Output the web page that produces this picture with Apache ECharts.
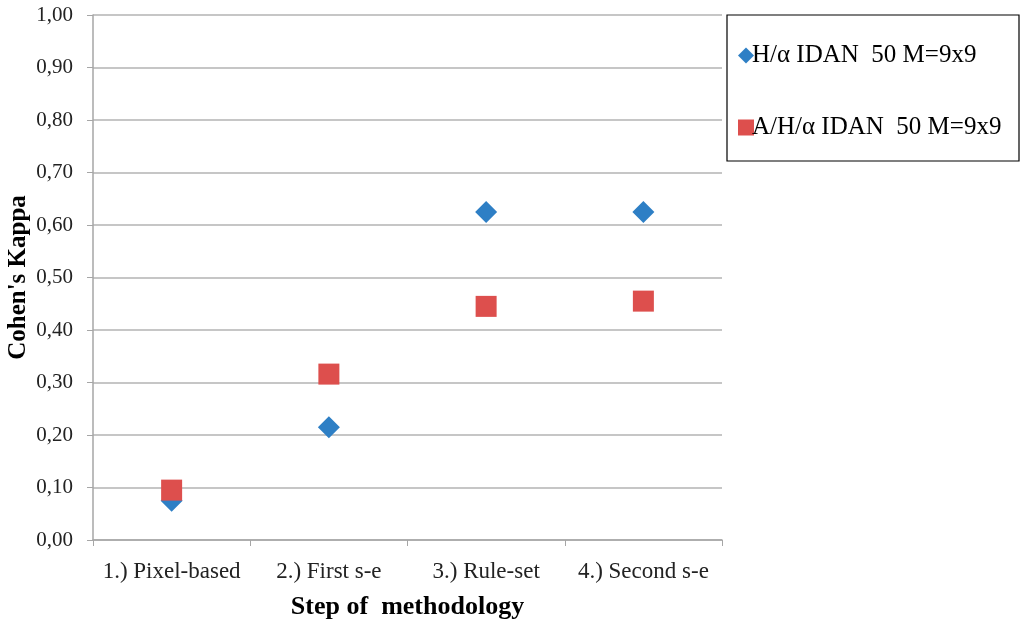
<!DOCTYPE html>
<html><head><meta charset="utf-8">
<script src="https://cdn.jsdelivr.net/npm/echarts@6/dist/echarts.min.js"></script>
<style>html,body{margin:0;padding:0;background:#fff}#c{width:1024px;height:626px}</style>
</head><body><div id="c"></div>
<script>
const categories = ['1.) Pixel-based', '2.) First s-e', '3.) Rule-set', '4.) Second s-e'];
const seriesNames = ['H/\u03b1 IDAN  50 M=9x9', 'A/H/\u03b1 IDAN  50 M=9x9'];
const hAlpha = [0.075, 0.215, 0.625, 0.625];
const aHAlpha = [0.095, 0.316, 0.445, 0.455];
const yTicks = [0, 0.1, 0.2, 0.3, 0.4, 0.5, 0.6, 0.7, 0.8, 0.9, 1.0];

const chart = echarts.init(document.getElementById('c'));
const font = 'Liberation Serif';
chart.setOption({
  backgroundColor: '#fff',
  animation: false,
  grid: { left: 93, right: 302, top: 15, bottom: 86, outerBoundsMode: 'none', containLabel: false },
  xAxis: {
    type: 'category', data: categories, boundaryGap: true,
    name: 'Step of  methodology', nameLocation: 'middle', nameGap: 54, nameMoveOverlap: false,
    nameTextStyle: { fontFamily: font, fontWeight: 'bold', fontSize: 26, color: '#000' },
    axisLine: { lineStyle: { color: '#a6a6a6', width: 1.5 } },
    axisTick: { show: true, alignWithLabel: false, length: 6, lineStyle: { color: '#a6a6a6' } },
    axisLabel: { fontFamily: font, fontSize: 23, color: '#222', margin: 20, interval: 0 }
  },
  yAxis: {
    type: 'value', min: 0, max: 1, interval: 0.1,
    name: "Cohen's Kappa", nameLocation: 'middle', nameGap: 62, nameMoveOverlap: false,
    nameTextStyle: { fontFamily: font, fontWeight: 'bold', fontSize: 25, color: '#000' },
    axisLine: { show: true, lineStyle: { color: '#a6a6a6', width: 1.5 } },
    axisTick: { show: true, length: 6, lineStyle: { color: '#a6a6a6' } },
    axisLabel: { fontFamily: font, fontSize: 21, color: '#222', margin: 20,
      formatter: v => v.toFixed(2).replace('.', ',') },
    splitLine: { lineStyle: { color: '#b3b3b3', width: 1.5 } }
  },
  legend: {
    orient: 'vertical', left: 733, top: 38, itemGap: 47,
    itemWidth: 16, itemHeight: 16,
    textStyle: { fontFamily: font, fontSize: 25, color: '#000', padding: [0, 0, 0, -7] },
    data: [{ name: seriesNames[0], icon: 'diamond' }, { name: seriesNames[1], icon: 'rect' }]
  },
  graphic: [{
    type: 'rect', shape: { x: 727, y: 15, width: 292, height: 146 },
    style: { fill: 'none', stroke: '#000', lineWidth: 1.2 }, z: 0
  }],
  series: [
    { name: seriesNames[0], type: 'scatter', symbol: 'diamond', symbolSize: [22, 22],
      itemStyle: { color: '#2e7fc5', opacity: 1 }, data: hAlpha, z: 2 },
    { name: seriesNames[1], type: 'scatter', symbol: 'rect', symbolSize: [21, 21],
      itemStyle: { color: '#dd4f4d', opacity: 1 }, data: aHAlpha, z: 3 }
  ]
});
</script></body></html>
